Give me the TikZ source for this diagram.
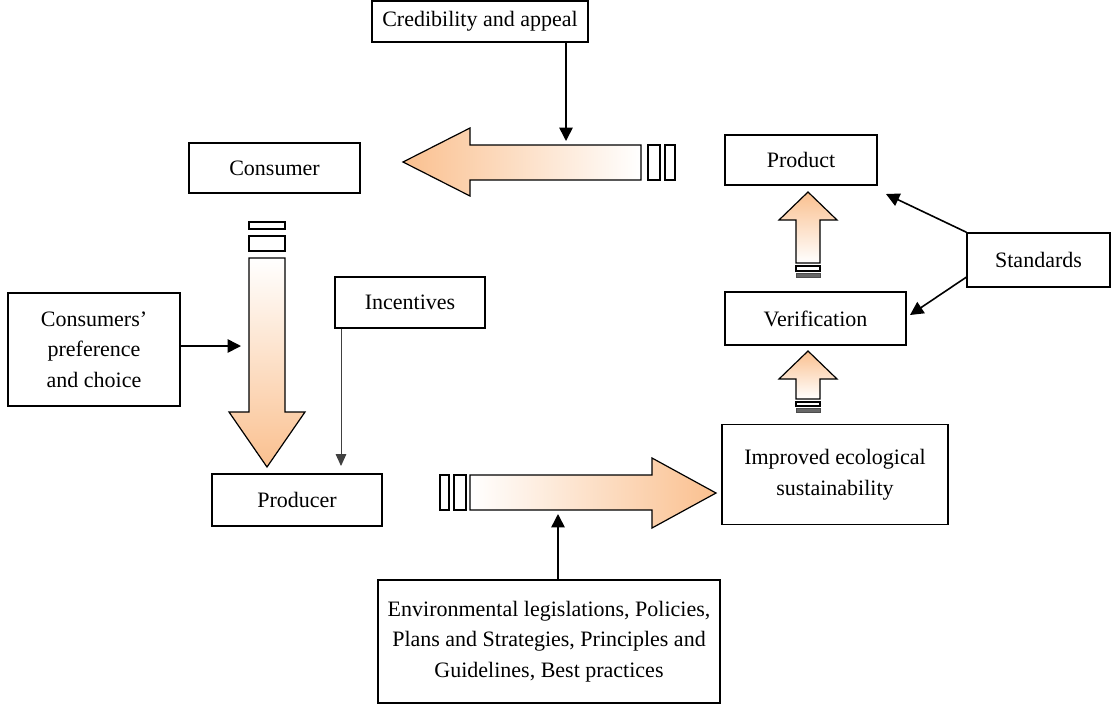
\documentclass[tikz,border=0pt]{standalone}
\usepackage{fontspec}
\setmainfont{Liberation Serif}
\usetikzlibrary{arrows.meta}
\definecolor{peach}{RGB}{250,192,143}

\begin{document}
\begin{tikzpicture}[x=0.75pt,y=0.75pt,yscale=-1,xscale=1,
  box/.style={draw, line width=1.1pt, align=center, inner sep=0.75pt, font=\fontsize{16.5}{23}\selectfont},
  arr/.style={line width=1.2pt, -{Triangle[length=10pt,width=10pt]}},
  thinarr/.style={draw=black!75, line width=0.75pt, -{Triangle[length=9pt,width=8pt]}},
  bigarrow/.style={draw, line width=0.9pt},
  gap/.style={draw, line width=0.9pt, fill=white},
  darkgap/.style={draw=black!70, line width=0.6pt, fill=black!60}
]
\useasboundingbox (0,0) rectangle (1112,704);

% Text Node
\node[box, minimum width=162pt, minimum height=31pt] (cred) at (480,21.5) {Credibility and appeal};
% Text Node
\node[box, minimum width=128pt, minimum height=37.5pt] (cons) at (274.5,168) {Consumer};
% Text Node
\node[box, minimum width=114pt, minimum height=37.5pt] (prod) at (801,160) {Product};
% Text Node
\node[box, minimum width=136pt, minimum height=40pt] (verif) at (815.5,318.5) {Verification};
% Text Node
\node[box, minimum width=169.5pt, minimum height=75pt] (impr) at (835,474.5) {Improved ecological\\sustainability};
% Text Node
\node[box, minimum width=107pt, minimum height=40.5pt] (std) at (1038.5,260) {Standards};
% Text Node
\node[box, minimum width=129pt, minimum height=85pt] (pref) at (94,349.5) {Consumers’\\preference\\and choice};
% Text Node
\node[box, minimum width=112.5pt, minimum height=38pt] (incent) at (410,302.5) {Incentives};
% Text Node
\node[box, minimum width=127.5pt, minimum height=39pt] (producer) at (297,500) {Producer};
% Text Node
\node[box, minimum width=256.5pt, minimum height=92pt] (policy) at (549,641.5) {Environmental legislations, Policies,\\Plans and Strategies, Principles and\\Guidelines, Best practices};

%Left Arrow
\draw[bigarrow, left color=peach, right color=white] (403,162) -- (470,128) -- (470,145) -- (641,145) -- (641,180) -- (470,180) -- (470,196) -- cycle;
\draw[gap] (648,145) rectangle (660,180);
\draw[gap] (665,145) rectangle (675,180);
%Down Arrow
\draw[bigarrow, top color=white, bottom color=peach] (249,258) -- (285,258) -- (285,412) -- (305,412) -- (267,467) -- (229,412) -- (249,412) -- cycle;
\draw[gap] (249,236) rectangle (285,251);
\draw[gap] (249,222) rectangle (285,229);
%Right Arrow
\draw[bigarrow, left color=white, right color=peach] (470,475) -- (652,475) -- (652,458) -- (716,493) -- (652,528) -- (652,510) -- (470,510) -- cycle;
\draw[gap] (454,475) rectangle (466,510);
\draw[gap] (440,475) rectangle (449,510);
%Up Arrow (verification to product)
\draw[bigarrow, top color=peach, bottom color=white] (808,192) -- (837,220) -- (820,220) -- (820,263) -- (796,263) -- (796,220) -- (779,220) -- cycle;
\draw[gap] (796,266) rectangle (820,271);
\draw[darkgap] (796,273) rectangle (820,277);
%Up Arrow (improved to verification)
\draw[bigarrow, top color=peach, bottom color=white] (808,351) -- (837,379) -- (820,379) -- (820,399) -- (796,399) -- (796,379) -- (779,379) -- cycle;
\draw[gap] (796,402) rectangle (820,406);
\draw[darkgap] (796,408) rectangle (820,412);

% Connectors
\coordinate (credtip) at (566,141);
\coordinate (preftip) at (241,346);
\coordinate (inctip) at (341,466);
\coordinate (poltip) at (558,514);
\coordinate (stdtipa) at (886,194);
\coordinate (stdtipb) at (910,315);
\draw[arr] (cred.south -| credtip) -- (credtip);
\draw[arr] (pref.east |- preftip) -- (preftip);
\draw[thinarr] (incent.south -| inctip) -- (inctip);
\draw[arr] (policy.north -| poltip) -- (poltip);
\draw[arr] (std.north west) -- (stdtipa);
\draw[arr] ([yshift=-8pt]std.south west) -- (stdtipb);

\end{tikzpicture}
\end{document}
